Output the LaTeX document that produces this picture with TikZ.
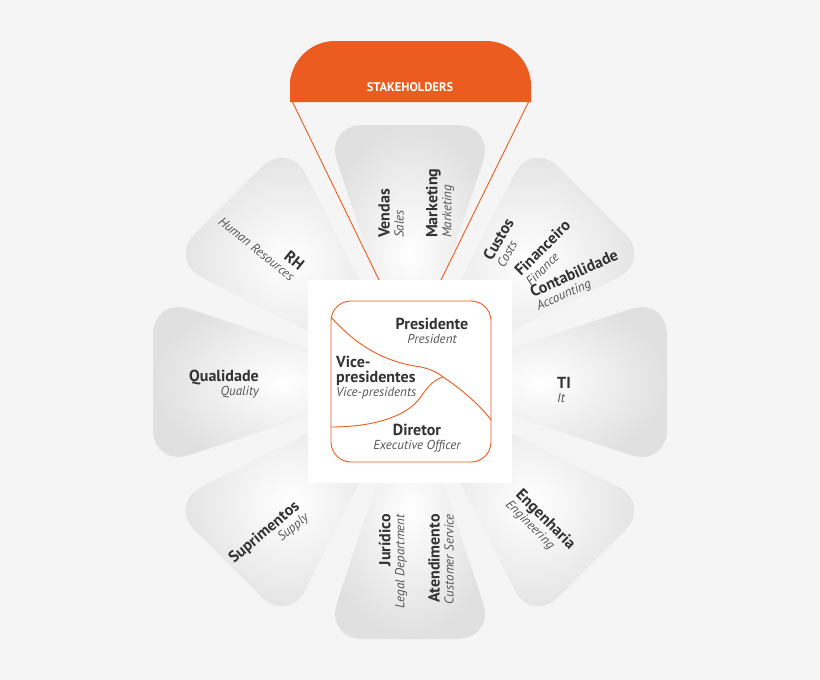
\documentclass[tikz,border=0pt]{standalone}
\usepackage{fontspec}
\setmainfont{PT Sans}
\definecolor{bg}{HTML}{F5F5F5}
\definecolor{org}{HTML}{EC5B1F}
\definecolor{txt}{HTML}{333333}
\definecolor{itx}{HTML}{555555}
\definecolor{pet}{HTML}{E0E0E0}
\tikzset{
  petal/.style={inner color=white,outer color=pet,rounded corners=38pt},
  lab/.style={inner sep=0pt,text=txt,font=\bfseries\fontsize{16}{15}\selectfont},
  olin/.style={draw=org,line width=0.9pt}
}
\newcommand{\tr}[1]{{\mdseries\itshape\fontsize{13}{14}\selectfont\color{itx}#1}}
\begin{document}
\begin{tikzpicture}[x=1pt,y=-1pt]
\fill[bg] (0,0) rectangle (820,680);
\useasboundingbox (0,0) rectangle (820,680);
\foreach \a in {0,45,...,315}{
  \shade[petal,rotate around={\a:(410,382)}] (410,382) -- (325,125) -- (495,125) -- cycle;
}
\coordinate (sl) at (292,101);
\coordinate (sr) at (529,101);
\coordinate (el) at (380,282);
\coordinate (er) at (440,282);
\draw[olin] (sl) -- (el);
\draw[olin] (sr) -- (er);
\fill[org] (290,102) -- (290,70) [rounded corners=45pt] -- (290,41) -- (531,41) [sharp corners] -- (531,70) -- (531,102) -- cycle;
\node[text=white,font=\bfseries\fontsize{12.5}{12}\selectfont] (stk) at (410,87) {STAKEHOLDERS};
\fill[white] (308,280) rectangle (512,483);
\draw[olin,rounded corners=20pt] (331,301) rectangle (491,462);
\coordinate (c1) at (331,317);
\coordinate (cm) at (443,377);
\coordinate (c2) at (491,420);
\coordinate (c3) at (331,427);
\draw[olin] (c1) .. controls (360,350) and (390,362) .. (415,366) .. controls (430,368) and (440,374) .. (cm) .. controls (460,388) and (480,405) .. (c2);
\draw[olin] (c3) .. controls (370,427) and (405,418) .. (420,398) .. controls (428,386) and (435,379) .. (cm);
% centre texts
\node[lab,align=center] (pres) at (432,331) {Presidente\\[-1pt]\tr{President}};
\node[lab,align=left,anchor=west] (vice) at (336,378) {Vice-\\presidentes\\[-1pt]\tr{Vice-presidents}};
\node[lab,align=center] (dir) at (417,438) {Diretor\\[-1pt]\tr{Executive Officer}};
% petals texts
\node[lab,align=left,rotate=90,anchor=west] (vend) at (391,238) {Vendas\\[-1pt]\tr{Sales}};
\node[lab,align=left,rotate=90,anchor=west] (mkt) at (440,238) {Marketing\\[-1pt]\tr{Marketing}};
\node[lab,align=left,rotate=60,anchor=west] (cust) at (493,262) {Custos\\[-1pt]\tr{Costs}};
\node[lab,align=left,rotate=45,anchor=west] (fin) at (522,278) {Financeiro\\[-1pt]\tr{Finance}};
\node[lab,align=left,rotate=24,anchor=west] (cont) at (534,300) {Contabilidade\\[-1pt]\tr{Accounting}};
\node[lab,align=right,rotate=-39,anchor=east] (rh) at (298,272) {RH\\[-1pt]\tr{Human Resources}};
\node[lab,align=right,anchor=east] (qual) at (259,384) {Qualidade\\[-1pt]\tr{Quality}};
\node[lab,align=left,anchor=west] (ti) at (557,390) {TI\\[-1pt]\tr{It}};
\node[lab,align=right,rotate=40,anchor=east] (sup) at (302,510) {Suprimentos\\[-1pt]\tr{Supply}};
\node[lab,align=right,rotate=90,anchor=east] (jur) at (393,514) {Jurídico\\[-1pt]\tr{Legal Department}};
\node[lab,align=right,rotate=90,anchor=east] (ate) at (441,514) {Atendimento\\[-1pt]\tr{Customer Service}};
\node[lab,align=left,rotate=-45,anchor=west] (eng) at (513,497) {Engenharia\\[-1pt]\tr{Engineering}};
\end{tikzpicture}
\end{document}
